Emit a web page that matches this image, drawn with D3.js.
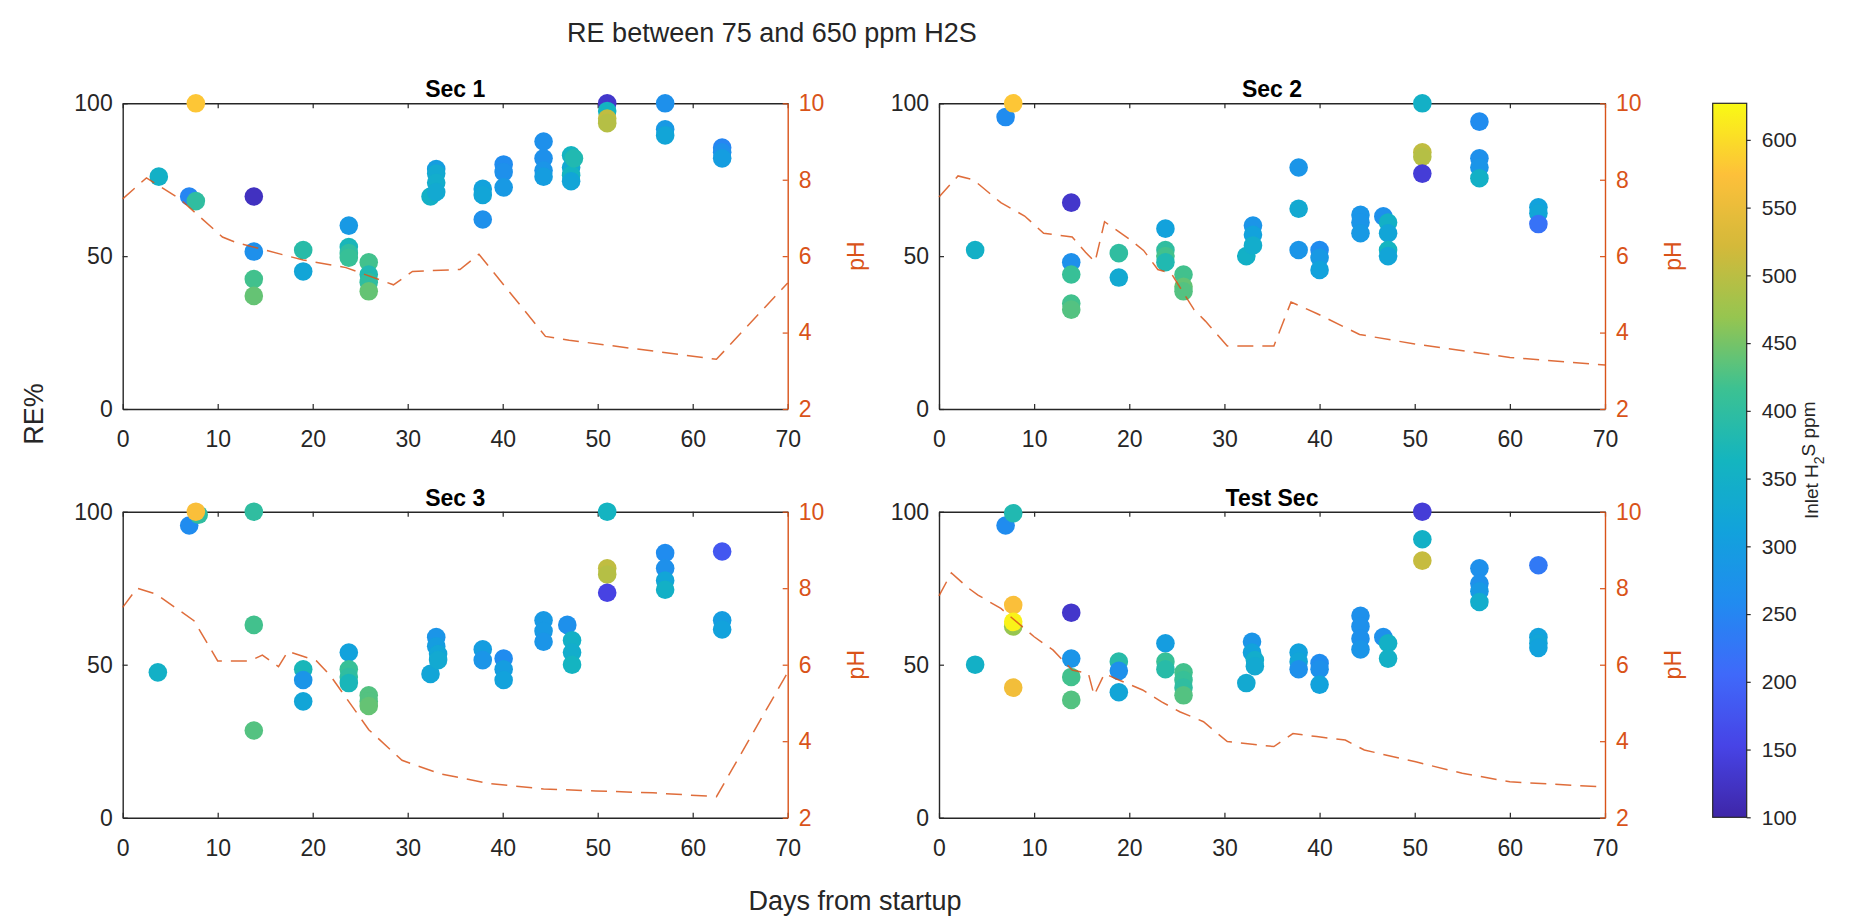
<!DOCTYPE html>
<html>
<head>
<meta charset="utf-8">
<script src="https://d3js.org/d3.v7.min.js"></script>
<style>
  body { margin: 0; background: #fff; }
  svg text { font-family: "Liberation Sans", Arial, Helvetica, sans-serif; }
</style>
</head>
<body>
<svg id="chart" width="1867" height="922"></svg>
<script>
// ---- data: day, removal efficiency (%), inlet H2S (ppm) ----
var sec1Day = [3.8, 7, 7.7, 7.7, 13.8, 13.8, 13.8, 13.8, 19, 19, 23.8, 23.8, 23.8, 23.8, 25.9, 25.9, 25.9, 25.9,
  32.4, 33, 33, 33, 33, 37.9, 37.9, 37.9, 40.1, 40.1, 40.1, 44.3, 44.3, 44.3, 44.3, 47.2, 47.2, 47.2, 47.2, 47.5,
  51, 51, 51, 51, 57.1, 57.1, 57.1, 63.1, 63.1, 63.1];
var sec1RE = [76, 69.5, 68, 100, 69.5, 51.5, 42.5, 37, 52, 45, 60, 53, 51, 49.5, 48, 44, 41.5, 38.5,
  69.5, 78.5, 77, 74, 71, 72, 70, 62, 80, 77.5, 72.5, 87.5, 82, 78, 76, 83, 79, 76.5, 74.5, 82,
  100, 97.5, 95, 93.5, 100, 91.5, 89.5, 85.5, 84, 82];
var sec1Ppm = [350, 250, 400, 580, 120, 270, 420, 440, 390, 320, 290, 370, 400, 410, 420, 380, 400, 440,
  350, 300, 330, 340, 330, 310, 320, 270, 260, 270, 290, 270, 270, 280, 300, 360, 330, 360, 320, 380,
  130, 360, 505, 495, 270, 290, 320, 250, 270, 300];
var sec1PhDay = [0, 2.5, 6, 10.5, 12, 19, 23.5, 28.5, 30.5, 35.5, 37.5, 44.5, 47, 62.5, 70];
var sec1Ph = [7.5, 8.05, 7.5, 6.5, 6.35, 5.9, 5.7, 5.25, 5.6, 5.65, 6.05, 3.9, 3.8, 3.3, 5.3];

var sec2Day = [3.8, 7, 7.8, 13.9, 13.9, 13.9, 13.9, 13.9, 18.9, 18.9, 23.8, 23.8, 23.8, 23.8, 25.7, 25.7, 25.7,
  32.3, 33, 33, 33, 37.8, 37.8, 37.8, 40, 40, 40, 44.3, 44.3, 44.3, 46.7, 47.2, 47.2, 47.2, 47.2,
  50.8, 50.8, 50.8, 50.8, 56.8, 56.8, 56.8, 56.8, 63, 63, 63];
var sec2RE = [52, 95.5, 100, 67.5, 48, 44, 34.5, 32.5, 51, 43, 59, 52, 50, 48, 44, 40, 38.5,
  50, 60, 57, 53.5, 79, 65.5, 52, 52, 49.5, 45.5, 63.5, 61, 57.5, 63, 61, 57.5, 52, 50,
  100, 84, 82.5, 77, 94, 82, 79, 75.5, 66, 64, 60.5];
var sec2Ppm = [350, 260, 580, 130, 270, 410, 420, 430, 400, 330, 310, 400, 420, 380, 420, 440, 430,
  350, 280, 310, 340, 280, 330, 280, 260, 290, 310, 280, 280, 290, 270, 350, 320, 360, 320,
  350, 505, 495, 140, 260, 270, 280, 350, 310, 320, 220];
var sec2PhDay = [0, 2, 3.6, 6.5, 9, 11, 14, 15.4, 16.4, 17.4, 20, 21.5, 23, 24.4, 26.8, 28, 30.3, 35.2, 37,
  39.7, 44.2, 50, 60, 70];
var sec2Ph = [7.55, 8.1, 8.0, 7.4, 7.05, 6.6, 6.5, 6.1, 5.85, 6.9, 6.45, 6.15, 5.65, 5.55, 4.6, 4.3, 3.65, 3.65, 4.8,
  4.5, 3.95, 3.7, 3.35, 3.15];

var sec3Day = [3.7, 7, 8, 7.7, 13.8, 13.8, 13.8, 19, 19, 19, 23.8, 23.8, 23.8, 23.8, 25.9, 25.9, 25.9,
  32.4, 33, 33, 33.2, 33.2, 37.9, 37.9, 40.1, 40.1, 40.1, 44.3, 44.3, 44.3, 46.8, 47.3, 47.3, 47.3,
  51, 51, 51, 51, 57.1, 57.1, 57.1, 57.1, 63.1, 63.1, 63.1];
var sec3RE = [47.5, 95.5, 99, 100, 100, 63, 28.5, 48.5, 45, 38, 54, 48.5, 46, 44, 40, 38, 36.5,
  47, 59, 56, 53.5, 51.5, 55, 51.5, 52, 48.5, 45, 64.5, 61, 57.5, 63, 58, 54, 50,
  100, 81.5, 79.5, 73.5, 86.5, 81.5, 77.5, 74.5, 87, 64.5, 61.5];
var sec3Ppm = [350, 260, 400, 570, 400, 420, 430, 370, 280, 320, 310, 410, 400, 370, 430, 430, 440,
  320, 280, 300, 320, 330, 300, 280, 260, 300, 310, 290, 290, 280, 270, 350, 340, 360,
  360, 505, 495, 150, 260, 270, 320, 350, 180, 300, 310];
var sec3PhDay = [0, 1.5, 3.5, 7.5, 10, 13.4, 14.7, 16.4, 17.4, 20.4, 21.9, 25.9, 29.4, 33.4, 38.4, 44.3, 49.8,
  55.8, 62.5, 70];
var sec3Ph = [7.5, 8.0, 7.85, 7.15, 6.1, 6.1, 6.25, 5.95, 6.35, 6.1, 5.7, 4.3, 3.5, 3.15, 2.9, 2.75, 2.7,
  2.65, 2.55, 5.8];

var testDay = [3.8, 7, 7.8, 7.8, 7.8, 7.8, 7.8, 13.9, 13.9, 13.9, 13.9, 18.9, 18.9, 18.9, 23.8, 23.8, 23.8,
  25.7, 25.7, 25.7, 25.7, 32.3, 32.9, 32.9, 33.2, 33.2, 37.8, 37.8, 37.8, 40, 40, 40, 44.3, 44.3, 44.3, 44.3,
  46.7, 47.2, 47.2, 50.8, 50.8, 50.8, 56.8, 56.8, 56.8, 56.8, 63, 63, 63, 63];
var testRE = [50, 95.5, 99.5, 69.5, 62.5, 64, 42.5, 67, 52, 46, 38.5, 51, 48, 41, 57, 51, 48.5,
  47.5, 45, 42.5, 40, 44, 57.5, 54, 51.5, 49.5, 54, 51, 48.5, 50.5, 48.5, 43.5, 66, 62.5, 58.5, 55,
  59, 57, 52, 100, 91, 84, 81.5, 76.5, 74, 70.5, 82.5, 59, 57, 55.5];
var testPpm = [350, 260, 380, 570, 470, 620, 560, 130, 280, 420, 430, 390, 270, 320, 300, 410, 390,
  420, 410, 400, 430, 330, 280, 310, 340, 330, 310, 320, 270, 260, 270, 310, 270, 270, 270, 280,
  270, 350, 350, 140, 350, 510, 270, 270, 290, 340, 230, 310, 320, 310];
var testPhDay = [0, 1.3, 3.1, 4.1, 6.5, 10, 12, 14, 15.7, 16.3, 17.4, 18.9, 21.4, 23.4, 25.3, 27.8, 30.3, 35.2,
  37.2, 39.7, 42.7, 44.7, 50.1, 55, 60, 70];
var testPh = [7.8, 8.4, 8.0, 7.82, 7.47, 6.73, 6.38, 5.86, 5.77, 5.2, 5.77, 5.6, 5.34, 5.03, 4.77, 4.51, 3.99, 3.86,
  4.2, 4.12, 4.03, 3.77, 3.46, 3.16, 2.94, 2.8];

var sectionNames = ["Sec 1", "Sec 2", "Sec 3", "Test Sec"];
var dayTicks = [0, 10, 20, 30, 40, 50, 60, 70];
var reTicks = [0, 50, 100];
var phTicks = [2, 4, 6, 8, 10];
var ppmTicks = [100, 150, 200, 250, 300, 350, 400, 450, 500, 550, 600];

// ---- look ----
var ink = "#262626", orange = "#D95319";
var cMin = 100, cMax = 627;
var parula = ["#3e26a8", "#4744e6", "#3f69fa", "#218bf0", "#12a2dc", "#14b5bf",
  "#3cc192", "#96c550", "#d4b93a", "#fdc03a", "#f9fa14"];
var interp = d3.piecewise(d3.interpolateRgb, parula);
var color = d3.scaleSequential(interp).domain([cMin, cMax]).clamp(true);

var svg = d3.select("#chart");

var panels = [
  { name: sectionNames[0], day: sec1Day, re: sec1RE, ppm: sec1Ppm, phDay: sec1PhDay, ph: sec1Ph },
  { name: sectionNames[1], day: sec2Day, re: sec2RE, ppm: sec2Ppm, phDay: sec2PhDay, ph: sec2Ph },
  { name: sectionNames[2], day: sec3Day, re: sec3RE, ppm: sec3Ppm, phDay: sec3PhDay, ph: sec3Ph },
  { name: sectionNames[3], day: testDay, re: testRE, ppm: testPpm, phDay: testPhDay, ph: testPh }
];
var boxes = [
  { x0: 122.7, x1: 787.7, y0: 103.3, y1: 409 },
  { x0: 939, x1: 1605, y0: 103.3, y1: 409 },
  { x0: 122.7, x1: 787.7, y0: 511.7, y1: 817.7 },
  { x0: 939, x1: 1605, y0: 511.7, y1: 817.7 }
];

function styleAxis(g, col) {
  g.select(".domain").attr("stroke", col).attr("stroke-width", 1.4);
  g.selectAll(".tick line").attr("stroke", col).attr("stroke-width", 1.2);
  g.selectAll(".tick text").attr("fill", col).attr("font-size", 23);
}

panels.forEach(function (p, i) {
  var b = boxes[i];
  var x = d3.scaleLinear().domain([0, 70]).range([b.x0, b.x1]);
  var y = d3.scaleLinear().domain([0, 100]).range([b.y1, b.y0]);
  var yR = d3.scaleLinear().domain([2, 10]).range([b.y1, b.y0]);
  var g = svg.append("g");

  g.append("g").attr("transform", "translate(0," + b.y0 + ")")
    .call(d3.axisTop(x).tickValues(dayTicks).tickSize(-5).tickSizeOuter(0).tickFormat(""))
    .call(styleAxis, ink);
  g.append("g").attr("transform", "translate(0," + b.y1 + ")")
    .call(d3.axisBottom(x).tickValues(dayTicks).tickSize(-5).tickSizeOuter(0).tickPadding(22))
    .call(styleAxis, ink);
  g.append("g").attr("transform", "translate(" + b.x0 + ",0)")
    .call(d3.axisLeft(y).tickValues(reTicks).tickSize(-5).tickSizeOuter(0).tickPadding(10))
    .call(styleAxis, ink);
  g.append("g").attr("transform", "translate(" + b.x1 + ",0)")
    .call(d3.axisRight(yR).tickValues(phTicks).tickSize(-5).tickSizeOuter(0).tickPadding(11))
    .call(styleAxis, orange);

  // scatter coloured by inlet ppm
  g.append("g").selectAll("circle")
    .data(d3.range(p.day.length))
    .join("circle")
    .attr("cx", function (k) { return x(p.day[k]); })
    .attr("cy", function (k) { return y(p.re[k]); })
    .attr("r", 9.3)
    .attr("fill", function (k) { return color(p.ppm[k]); });

  // pH dashed line
  var line = d3.line()
    .x(function (k) { return x(p.phDay[k]); })
    .y(function (k) { return yR(p.ph[k]); });
  g.append("path")
    .datum(d3.range(p.phDay.length))
    .attr("d", line)
    .attr("fill", "none")
    .attr("stroke", orange)
    .attr("stroke-opacity", 0.85)
    .attr("stroke-width", 1.5)
    .attr("stroke-dasharray", "16,9");

  g.append("text")
    .attr("x", (b.x0 + b.x1) / 2).attr("y", b.y0 - 6)
    .attr("text-anchor", "middle").attr("font-weight", "bold")
    .attr("font-size", 23).attr("fill", "#000")
    .text(p.name);

  g.append("text")
    .attr("transform", "translate(" + (b.x1 + 68) + "," + ((b.y0 + b.y1) / 2) + ") rotate(-90)")
    .attr("text-anchor", "middle").attr("dy", "0.35em")
    .attr("font-size", 23).attr("fill", orange)
    .text("pH");
});

// overall labels
svg.append("text").attr("x", 772).attr("y", 42)
  .attr("text-anchor", "middle").attr("font-size", 27).attr("fill", ink)
  .text("RE between 75 and 650 ppm H2S");
svg.append("text").attr("x", 855).attr("y", 910)
  .attr("text-anchor", "middle").attr("font-size", 27).attr("fill", ink)
  .text("Days from startup");
svg.append("text")
  .attr("transform", "translate(34,414) rotate(-90)")
  .attr("text-anchor", "middle").attr("dy", "0.35em")
  .attr("font-size", 27).attr("fill", ink)
  .text("RE%");

// colorbar
var cb = { x0: 1712.7, x1: 1746.7, y0: 103.3, y1: 817.3 };
var grad = svg.append("defs").append("linearGradient")
  .attr("id", "parula").attr("x1", 0).attr("y1", 1).attr("x2", 0).attr("y2", 0);
grad.selectAll("stop").data(d3.range(0, 1.0001, 0.02)).join("stop")
  .attr("offset", function (t) { return t; })
  .attr("stop-color", function (t) { return interp(t); });
svg.append("rect")
  .attr("x", cb.x0).attr("y", cb.y0)
  .attr("width", cb.x1 - cb.x0).attr("height", cb.y1 - cb.y0)
  .attr("fill", "url(#parula)").attr("stroke", ink).attr("stroke-width", 1.2);
var cScale = d3.scaleLinear().domain([cMin, cMax]).range([cb.y1, cb.y0]);
svg.append("g").attr("transform", "translate(" + cb.x1 + ",0)")
  .call(d3.axisRight(cScale).tickValues(ppmTicks).tickSize(4).tickSizeOuter(0).tickPadding(11))
  .call(styleAxis, ink)
  .call(function (g) { g.select(".domain").remove(); g.selectAll(".tick text").attr("font-size", 21); });

var cbLabel = svg.append("text")
  .attr("transform", "translate(1811," + ((cb.y0 + cb.y1) / 2) + ") rotate(-90)")
  .attr("text-anchor", "middle").attr("dy", "0.35em")
  .attr("font-size", 19).attr("fill", ink);
cbLabel.append("tspan").text("Inlet H");
cbLabel.append("tspan").attr("font-size", 14).attr("dy", "0.45em").text("2");
cbLabel.append("tspan").attr("dy", "-0.45em").text("S ppm");
</script>
</body>
</html>
